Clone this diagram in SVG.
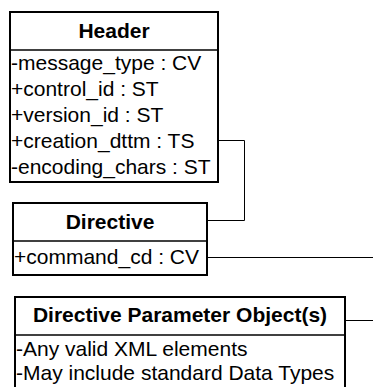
<svg xmlns="http://www.w3.org/2000/svg" width="373" height="387" viewBox="0 0 373 387">
<style>
.box{fill:#fff;stroke:#000;stroke-width:2}
.sep{stroke:#000;stroke-width:1.6}
.title{font-family:"Liberation Sans",Arial,sans-serif;font-size:21px;font-weight:bold;fill:#000;text-anchor:middle}
.attr{font-family:"Liberation Sans",Arial,sans-serif;font-size:21px;fill:#000}
.conn{fill:none;stroke:#000;stroke-width:1}
</style>
<rect width="373" height="387" fill="#fff"/>
<g id="connectors">
<polyline class="conn" points="218,140.5 244.5,140.5 244.5,220.5 207,220.5"/>
<line class="conn" x1="207" y1="257.5" x2="373" y2="257.5"/>
<line class="conn" x1="345" y1="320.5" x2="373" y2="320.5"/>
</g>
<g id="header">
<rect class="box" x="10" y="12" width="208" height="170"/>
<line class="sep" x1="10" y1="50" x2="218" y2="50"/>
<text class="title" x="114" y="38">Header</text>
<text class="attr" x="11" y="70">-message_type : CV</text>
<text class="attr" x="11" y="96">+control_id : ST</text>
<text class="attr" x="11" y="122">+version_id : ST</text>
<text class="attr" x="11" y="148">+creation_dttm : TS</text>
<text class="attr" x="11" y="174">-encoding_chars : ST</text>
</g>
<g id="directive">
<rect class="box" x="13" y="203" width="194" height="72"/>
<line class="sep" x1="13" y1="241" x2="207" y2="241"/>
<text class="title" x="110" y="229">Directive</text>
<text class="attr" x="14" y="264">+command_cd : CV</text>
</g>
<g id="parameters">
<rect class="box" x="15" y="297" width="330" height="100"/>
<line class="sep" x1="15" y1="335" x2="345" y2="335"/>
<text class="title" x="180" y="322">Directive Parameter Object(s)</text>
<text class="attr" x="16" y="356">-Any valid XML elements</text>
<text class="attr" x="16" y="380">-May include standard Data Types</text>
</g>
</svg>
